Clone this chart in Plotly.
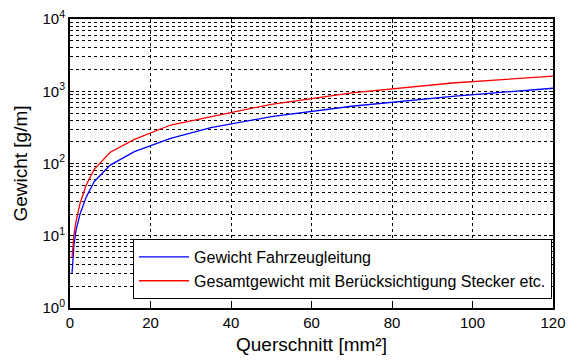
import plotly.graph_objects as go

querschnitt = [0.5, 0.75, 1, 1.5, 2.5, 4, 6, 10, 16, 25, 35, 50, 70, 95, 120]
gewicht_leitung = [3.0, 5, 7.5, 12, 20, 34, 56, 95, 146, 223, 313, 445, 620, 850, 1100]
gewicht_gesamt = [5.0, 7.5, 10.5, 16, 28, 50, 83, 143, 216, 341, 444, 660, 950, 1300, 1620]

name_leitung = "Gewicht Fahrzeugleitung"
name_gesamt = "Gesamtgewicht mit Berücksichtigung Stecker etc."

x_ticks = [0, 20, 40, 60, 80, 100, 120]
y_ticks = [1, 10, 100, 1000, 10000]
y_ticktext = ["10<sup>0</sup>", "10<sup>1</sup>", "10<sup>2</sup>", "10<sup>3</sup>", "10<sup>4</sup>"]
y_minor = [m * d for d in [1, 10, 100, 1000] for m in range(2, 10)]

fig = go.Figure()
fig.add_trace(go.Scatter(x=querschnitt, y=gewicht_leitung, mode="lines", name=name_leitung,
                         line=dict(color="#0000ff", width=1.3), legendgroup="a"))
fig.add_trace(go.Scatter(x=querschnitt, y=gewicht_gesamt, mode="lines", name=name_gesamt,
                         line=dict(color="#ff0000", width=1.3), legendgroup="b"))

axis_common = dict(showline=True, linecolor="black", linewidth=2, mirror="allticks",
                   ticks="inside", ticklen=4, tickcolor="black", showgrid=True,
                   gridcolor="black", griddash="dot", gridwidth=1, zeroline=False,
                   automargin=False, tickfont=dict(size=15, color="black"))

fig.update_xaxes(range=[0, 120], tickvals=x_ticks,
                 title=dict(text="Querschnitt [mm²]", font=dict(size=19, color="black"), standoff=8),
                 **axis_common)
fig.update_yaxes(type="log", range=[0, 4], tickvals=y_ticks, ticktext=y_ticktext,
                 title=dict(text="Gewicht [g/m]", font=dict(size=19, color="black"), standoff=10),
                 minor=dict(tickvals=y_minor, ticks="inside", ticklen=2, tickcolor="black",
                            showgrid=True, gridcolor="black", griddash="dot", gridwidth=1),
                 **axis_common)

fig.update_layout(
    width=572, height=363,
    margin=dict(l=70, r=19, t=19, b=55),
    paper_bgcolor="white", plot_bgcolor="white",
    font=dict(family="Liberation Sans, Arial, sans-serif", color="black"),
    showlegend=True,
    legend=dict(x=0.998, xanchor="right", y=0.031, yanchor="bottom",
                bgcolor="white", bordercolor="black", borderwidth=1,
                itemwidth=50,
                font=dict(size=16, color="black"), traceorder="grouped", tracegroupgap=0),
)

fig.write_html("out.html", config={"displayModeBar": False},
               post_script="document.body.style.margin='0';")
